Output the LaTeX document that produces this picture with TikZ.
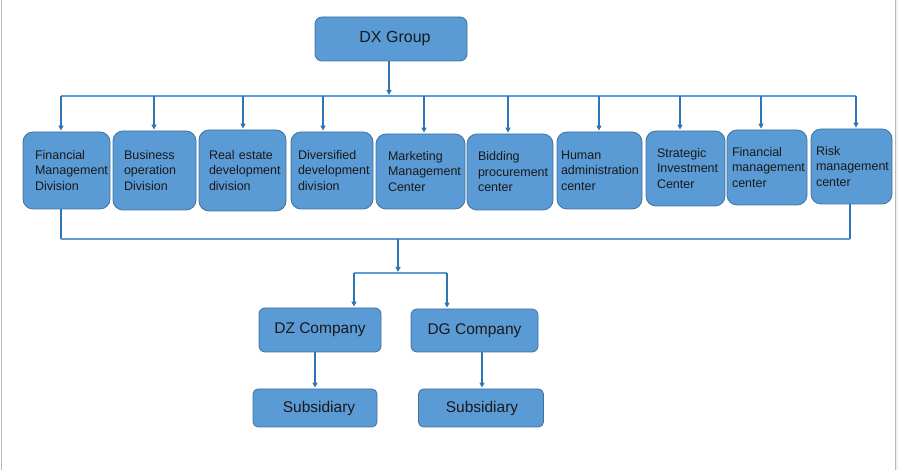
\documentclass[tikz,border=0pt]{standalone}
\usepackage{fontspec}
\setmainfont{Liberation Sans}
\usetikzlibrary{arrows.meta}
\definecolor{boxfill}{HTML}{5B9BD5}
\definecolor{boxline}{HTML}{41719C}
\definecolor{linkblue}{HTML}{2E75B6}
\definecolor{buslight}{HTML}{5B9BD5}
\tikzset{
  orgbox/.style={draw=boxline, fill=boxfill, line width=0.8pt, rounded corners=6pt, text=black!90},
  deptbox/.style={orgbox, rounded corners=10pt, align=left, inner ysep=0pt, font=\fontsize{12.5}{15.5}\selectfont},
  link/.style={draw=linkblue, line width=1.3pt},
  arr/.style={link, -{Triangle[length=5pt,width=5pt]}, shorten >=1pt},
  bus/.style={draw=buslight, line width=1.2pt}
}
\begin{document}
\begin{tikzpicture}[x=1pt, y=-1pt]
    \useasboundingbox (0,0) rectangle (898,470);
    % page edges
    \fill[gray!12] (896,0) rectangle (898,470);
    \draw[gray!55, line width=1pt] (1.5,0) -- (1.5,470);
    \draw[gray!55, line width=1pt] (895.5,0) -- (895.5,470);

    % group
    \node[orgbox, rounded corners=7pt, minimum width=152pt, minimum height=44pt, font=\fontsize{16}{19}\selectfont] (dx) at (391,39) {\hspace{8pt}DX Group};
    \coordinate (top) at (389,96);
    \draw[arr] (dx.south -| top) -- (top);
    \coordinate (busL) at (61,96);
    \coordinate (busR) at (856,96);
    \draw[bus] (busL) -- (busR);

    % divisions
    \foreach \n/\lx/\ty/\rx/\by/\off/\ax/\txt in {
        1/23/132/110/209/12/61/{Financial\\Management\\Division},
        2/113/131/196/210/11/154/{Business\\operation\\Division},
        3/199/130/286/211/10/243/{Real estate\\development\\division},
        4/291/132/373/209/7/323/{Diversified\\development\\division},
        5/376/134/465/209/12/424/{Marketing\\Management\\Center},
        6/467/134/553/210/11/508/{Bidding\\procurement\\center},
        7/557/132/642/209/4/599/{Human\\administration\\center},
        8/646/131/725/206/11/680/{Strategic\\Investment\\Center},
        9/727/130/807/205/5/761/{Financial\\management\\center},
        10/811/129/892/204/5/856/{Risk\\management\\center}}{
        \node[deptbox, minimum width={\rx-\lx}, minimum height={\by-\ty}, text width={\rx-\lx-2*\off}, inner xsep=\off] (d\n) at ({(\lx+\rx)/2},{(\ty+\by)/2}) {\txt};
        \coordinate (a\n) at (\ax,96);
        \draw[arr] (a\n) -- (a\n |- d\n.north);
    }

    % lower bus
    \coordinate (lowL) at (61,239);
    \coordinate (lowR) at (850,239);
    \draw[link] (d1.south -| lowL) -- (lowL);
    \draw[link] (d10.south -| lowR) -- (lowR);
    \draw[bus] (lowL) -- (lowR);
    \coordinate (mid) at (398,239);
    \coordinate (split) at (398,273);
    \draw[arr] (mid) -- (split);

    % companies
    \node[orgbox, minimum width=122pt, minimum height=44pt, font=\fontsize{15.5}{18}\selectfont] (dz) at (320,330) {DZ Company};
    \node[orgbox, minimum width=127pt, minimum height=43pt, font=\fontsize{15.5}{18}\selectfont] (dg) at (474.5,330.5) {DG Company};
    \coordinate (splitL) at (354,273);
    \coordinate (splitR) at (447,273);
    \draw[bus] (splitL) -- (splitR);
    \draw[arr] (splitL) -- (splitL |- dz.north);
    \draw[arr] (splitR) -- (splitR |- dg.north);

    % subsidiaries
    \node[orgbox, rounded corners=5pt, minimum width=124pt, minimum height=38pt, font=\fontsize{15.5}{18}\selectfont] (sub1) at (315,408) {\hspace{8pt}Subsidiary};
    \node[orgbox, rounded corners=5pt, minimum width=125pt, minimum height=38pt, font=\fontsize{15.5}{18}\selectfont] (sub2) at (481,408) {\hspace{2pt}Subsidiary};
    \coordinate (subL) at (315,352);
    \coordinate (subR) at (482,352);
    \draw[arr] (subL) -- (subL |- sub1.north);
    \draw[arr] (subR) -- (subR |- sub2.north);
\end{tikzpicture}
\end{document}
